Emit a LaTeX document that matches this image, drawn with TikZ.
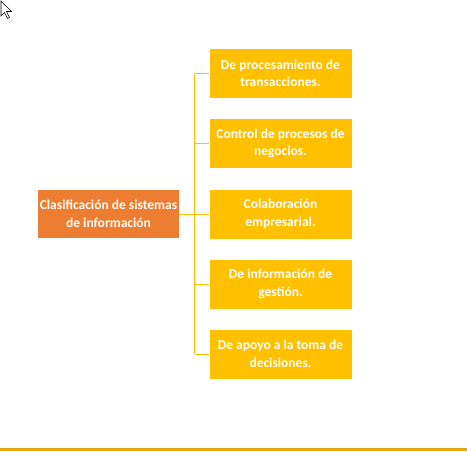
\documentclass[tikz,border=0pt]{standalone}
\usepackage{fontspec}
\setmainfont{Carlito}
\definecolor{orangebox}{HTML}{ED7D31}
\definecolor{yellowbox}{HTML}{FFC000}
\definecolor{goldline}{HTML}{E3A70F}
\tikzset{
  boxtext/.style={text=white, align=center, font=\bfseries\fontsize{13.5}{17.5}\selectfont},
  leaf/.style={boxtext, fill=yellowbox, minimum width=142pt, minimum height=49pt, inner sep=1pt},
  root/.style={boxtext, fill=orangebox, minimum width=141pt, minimum height=48pt, inner sep=1pt},
  conn/.style={draw=yellowbox, line width=0.9pt}
}
\begin{document}
\begin{tikzpicture}[x=1pt,y=-1pt]
\useasboundingbox (0,0) rectangle (467,451);
% cursor
\draw[black, fill=white, line width=0.6pt, line join=miter] (1,1) -- (1,16) -- (4.5,12.5) -- (7.5,18.5) -- (9.5,17.5) -- (6.5,11.5) -- (11.5,11.5) -- cycle;
\node[root] (r) at (108.5,214) {Clasificación de sistemas\\de información};
\node[leaf] (a) at (280.5,73.5) {De procesamiento de\\transacciones.};
\node[leaf] (b) at (280.5,143.5) {Control de procesos de\\negocios.};
\node[leaf] (c) at (280.5,214) {Colaboración\\empresarial.};
\node[leaf] (d) at (280.5,284) {De información de\\gestión.};
\node[leaf] (e) at (280.5,354) {De apoyo a la toma de\\decisiones.};
\coordinate (top) at (194.5,73.5);
\coordinate (bot) at (194.5,354);
\draw[conn] (top) -- (bot);
\draw[conn] (r.east) -- (c.west);
\foreach \n in {a,b,d,e} { \draw[conn] (\n.west) -- (\n.west -| top); }
\coordinate (bl) at (0,449.5);
\coordinate (br) at (467,449.5);
\draw[goldline, line width=2.5pt] (bl) -- (br);
\end{tikzpicture}
\end{document}
